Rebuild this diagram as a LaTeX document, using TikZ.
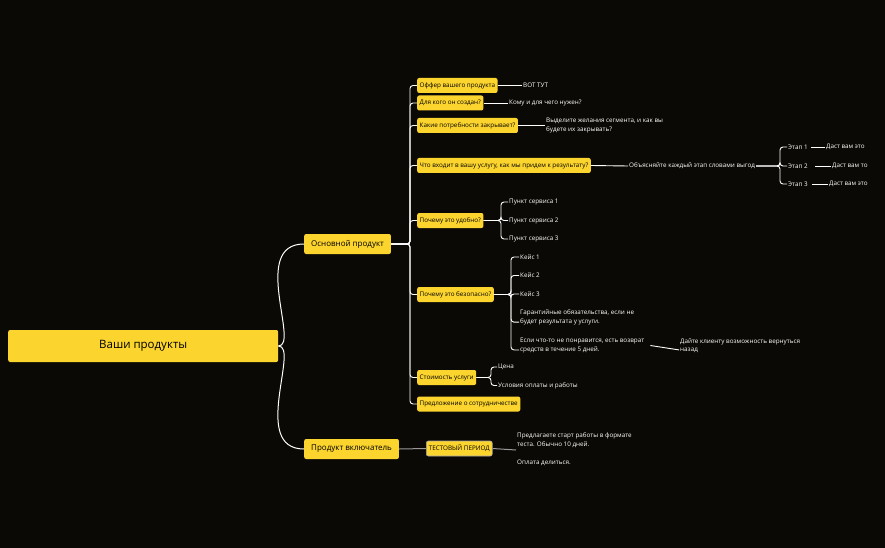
\documentclass[tikz,border=0pt]{standalone}
\usepackage{fontspec}
\setmainfont{Open Sans}
\begin{document}
\begin{tikzpicture}[x=1pt,y=-1pt,
 box/.style={fill=yel,rounded corners=2pt,inner xsep=2.5pt,inner ysep=0pt,minimum height=15pt,text=black,font=\fontsize{6.3}{7.5}\selectfont,anchor=west},
 big/.style={box,minimum height=20pt,font=\fontsize{8}{9}\selectfont,inner xsep=7pt},
 txt/.style={text=white,font=\fontsize{6.3}{9}\selectfont,inner sep=1pt,anchor=west,align=left},
 ln/.style={draw=white,line width=0.9pt,rounded corners=3pt},
 gl/.style={draw=gray!80,line width=1pt}]
\definecolor{yel}{HTML}{FCD42E}
\fill[fill={rgb,255:red,11;green,9;blue,5}] (0,0) rectangle (885,548);
\useasboundingbox (0,0) rectangle (885,548);
\node[box,minimum width=270pt,minimum height=32pt,font=\fontsize{11.5}{13}\selectfont,inner sep=0pt] (root) at (8,346) {Ваши продукты};
\node[big] (m1) at (304,244) {Основной продукт};
\node[big] (m2) at (304,449) {Продукт включатель};
\draw[white,line width=1pt] (root.east) .. controls (300,346) and (250,244) .. (m1.west);
\draw[white,line width=1pt] (root.east) .. controls (300,346) and (250,449) .. (m2.west);
% level 2
\node[box] (b1) at (417,85.5) {Оффер вашего продукта};
\node[box] (b2) at (417,103) {Для кого он создан?};
\node[box] (b3) at (417,125.5) {Какие потребности закрывает?};
\node[box] (b4) at (417,165.5) {Что входит в вашу услугу, как мы придем к результату?};
\node[box] (b5) at (417,220.5) {Почему это удобно?};
\node[box] (b6) at (417,294.5) {Почему это безопасно?};
\node[box] (b7) at (417,377.5) {Стоимость услуги};
\node[box] (b8) at (417,404) {Предложение о сотрудничестве};
\foreach \b in {b1,b2,b3,b4,b5,b6,b7,b8}
  \draw[ln] (m1.east) -- (410,244) |- (\b.west);
% children
\node[txt] (c1) at (522,85.5) {ВОТ ТУТ};
\node[txt] (c2) at (508,103) {Кому и для чего нужен?};
\node[txt,font=\fontsize{6.3}{8.5}\selectfont] (c3) at (545,125.5) {Выделите желания сегмента, и как вы\\будете их закрывать?};
\node[txt] (c4) at (628,166) {Объясняйте каждый этап словами выгод};
\foreach \a/\c in {b1/c1,b2/c2,b3/c3,b4/c4} \draw[ln] (\a.east) -- (\c.west);
\node[txt] (e1) at (787,147) {Этап 1};
\node[txt] (e2) at (787,166) {Этап 2};
\node[txt] (e3) at (787,184) {Этап 3};
\foreach \e in {e1,e2,e3} \draw[ln] (c4.east) -- (780,166) |- (\e.west);
\node[txt] (d1) at (825,147) {Даст вам это};
\node[txt] (d2) at (831,166) {Даст вам то};
\node[txt] (d3) at (828,184) {Даст вам это};
\draw[ln] (e1.east)++(2,0) -- (d1.west);
\draw[ln] (e2.east)++(6,0) -- (d2.west);
\draw[ln] (e3.east)++(3,0) -- (d3.west);
\node[txt] (s1) at (508,202) {Пункт сервиса 1};
\node[txt] (s2) at (508,220.5) {Пункт сервиса 2};
\node[txt] (s3) at (508,239) {Пункт сервиса 3};
\foreach \s in {s1,s2,s3} \draw[ln] (b5.east) -- (501,220.5) |- (\s.west);
\node[txt] (k1) at (519,257) {Кейс 1};
\node[txt] (k2) at (519,275.5) {Кейс 2};
\node[txt] (k3) at (519,294) {Кейс 3};
\node[txt,font=\fontsize{6.3}{8.5}\selectfont] (k4) at (519,317.5) {Гарантийные обязательства, если не\\будет результата у услуги.};
\node[txt,font=\fontsize{6.3}{8.5}\selectfont] (k5) at (519,345.5) {Если что-то не понравится, есть возврат\\средств в течение 5 дней.};
\foreach \k in {k1,k2,k3} \draw[ln] (b6.east) -- (511,294.5) |- (\k.west);
\draw[ln] (b6.east) -- (511,294.5) |- ([yshift=4pt]k4.south west);
\draw[ln] (b6.east) -- (511,294.5) |- ([yshift=4pt]k5.south west);
\node[txt,font=\fontsize{6.3}{8.5}\selectfont] (k6) at (679,345.5) {Дайте клиенту возможность вернуться\\назад};
\draw[white,line width=0.9pt] ([xshift=5pt]k5.east) -- ([yshift=4pt]k6.south west) ;
\node[txt] (p1) at (497,367) {Цена};
\node[txt] (p2) at (497,385.5) {Условия оплаты и работы};
\foreach \p in {p1,p2} \draw[ln] (b7.east) -- (491,377.5) |- (\p.west);
\node[box,draw=gray!70,line width=0.6pt] (t1) at (426,448.5) {ТЕСТОВЫЙ ПЕРИОД};
\draw[gl] (m2.east) -- (t1.west);
\node[txt,font=\fontsize{6.3}{8.5}\selectfont] (t2) at (516,449) {Предлагаете старт работы в формате\\теста. Обычно 10 дней.\\[1pt]\\Оплата делиться.};
\draw[gl] (t1.east) -- ([yshift=-1pt]t2.west);
\end{tikzpicture}
\end{document}
